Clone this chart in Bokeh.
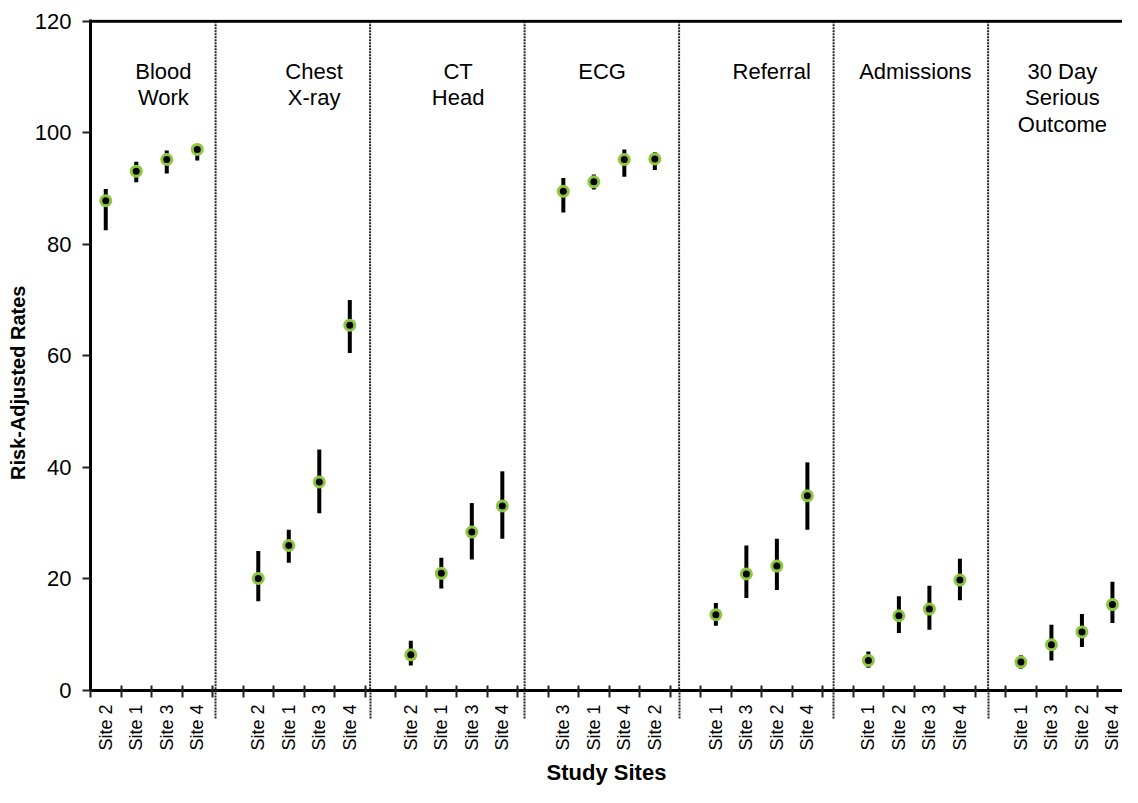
import math
from bokeh.plotting import figure
from bokeh.models import (Range1d, FixedTicker, LinearAxis, Span,
                          ColumnDataSource)
from bokeh.core.properties import value
from bokeh.embed import file_html
from bokeh.resources import INLINE

# ---------------- data ----------------
groups = ["Blood\nWork", "Chest\nX-ray", "CT\nHead", "ECG", "Referral",
          "Admissions", "30 Day\nSerious\nOutcome"]
sites = [
    ["Site 2", "Site 1", "Site 3", "Site 4"],
    ["Site 2", "Site 1", "Site 3", "Site 4"],
    ["Site 2", "Site 1", "Site 3", "Site 4"],
    ["Site 3", "Site 1", "Site 4", "Site 2"],
    ["Site 1", "Site 3", "Site 2", "Site 4"],
    ["Site 1", "Site 2", "Site 3", "Site 4"],
    ["Site 1", "Site 3", "Site 2", "Site 4"],
]
rate_blood = [87.8, 93.1, 95.2, 97.0]
low_blood = [82.5, 91.1, 92.7, 95.0]
high_blood = [89.9, 94.8, 96.8, 98.0]

rate_chest = [20.1, 26.0, 37.4, 65.5]
low_chest = [16.0, 22.9, 31.8, 60.5]
high_chest = [25.0, 28.8, 43.2, 70.0]

rate_ct = [6.4, 21.0, 28.4, 33.1]
low_ct = [4.5, 18.3, 23.5, 27.2]
high_ct = [8.9, 23.8, 33.6, 39.3]

rate_ecg = [89.5, 91.2, 95.2, 95.3]
low_ecg = [85.7, 89.8, 92.1, 93.3]
high_ecg = [91.9, 92.5, 97.0, 96.5]

rate_ref = [13.6, 20.9, 22.3, 34.9]
low_ref = [11.6, 16.6, 18.0, 28.8]
high_ref = [15.7, 26.0, 27.2, 40.9]

rate_adm = [5.4, 13.4, 14.6, 19.8]
low_adm = [4.1, 10.3, 10.9, 16.2]
high_adm = [7.0, 16.9, 18.8, 23.6]

rate_30d = [5.1, 8.2, 10.5, 15.4]
low_30d = [3.9, 5.4, 7.8, 12.1]
high_30d = [6.3, 11.8, 13.7, 19.5]

rates = [rate_blood, rate_chest, rate_ct, rate_ecg, rate_ref, rate_adm, rate_30d]
lows = [low_blood, low_chest, low_ct, low_ecg, low_ref, low_adm, low_30d]
highs = [high_blood, high_chest, high_ct, high_ecg, high_ref, high_adm, high_30d]

y_ticks = [0, 20, 40, 60, 80, 100, 120]

# ---------------- layout helpers ----------------
SLOTS = 5  # 4 sites + 1 spacer per group
label_dx = [0.39, 0.33, 0.05, -0.23, 0.33, 0.04, -0.14]

xs, ys, lo, hi, names = [], [], [], [], []
for g in range(len(groups)):
    for j in range(4):
        xs.append(SLOTS * g + j + 0.5)
        ys.append(rates[g][j])
        lo.append(lows[g][j])
        hi.append(highs[g][j])
        names.append(sites[g][j])

src = ColumnDataSource(dict(x=xs, y=ys, lo=lo, hi=hi))

FONT = "Liberation Sans"

p = figure(width=1122, height=787, output_backend="svg", toolbar_location=None,
           x_range=Range1d(0, 33.83), y_range=Range1d(0, 120.3),
           min_border_left=90, min_border_right=0, min_border_top=19,
           min_border_bottom=0)
p.background_fill_color = "white"
p.border_fill_color = "white"
p.outline_line_color = None
p.xgrid.visible = False
p.ygrid.visible = False

# y axis
ya = p.yaxis[0]
ya.ticker = FixedTicker(ticks=y_ticks, minor_ticks=[])
ya.axis_line_width = 3
ya.axis_line_color = "black"
ya.major_tick_line_width = 2
ya.major_tick_line_color = "#222222"
ya.major_tick_out = 8
ya.major_tick_in = 0
ya.minor_tick_line_color = None
ya.major_label_standoff = 11
ya.major_label_text_font = FONT
ya.major_label_text_font_size = "22px"
ya.major_label_text_color = "black"
ya.axis_label = "Risk-Adjusted Rates" + "\u00a0" * 10
ya.axis_label_text_font = FONT
ya.axis_label_text_font_style = "bold"
ya.axis_label_text_font_size = "20px"
ya.axis_label_text_color = "black"
ya.axis_label_standoff = 3

# x axis 1: dotted divider stubs (major) + category boundary ticks (minor)
div_x = [SLOTS * (g + 1) - 1 + 0.1 + 0.065 * g for g in range(len(groups) - 1)]
boundaries = list(range(0, 35))
xa = p.xaxis[0]
xa.ticker = FixedTicker(ticks=div_x, minor_ticks=boundaries)
xa.axis_line_width = 3
xa.axis_line_color = "black"
xa.major_tick_line_width = 2
xa.major_tick_line_color = "#222222"
xa.major_tick_line_dash = "2 1"
xa.major_tick_out = 28
xa.major_tick_in = 0
xa.minor_tick_line_width = 2
xa.minor_tick_line_color = "#222222"
xa.minor_tick_out = 7
xa.minor_tick_in = 5
xa.major_label_overrides = {d: "" for d in div_x}
xa.major_label_standoff = 0

# x axis 2: site labels
centers = xs
xl = LinearAxis(ticker=FixedTicker(ticks=centers, minor_ticks=[]))
xl.major_label_overrides = {c: n for c, n in zip(centers, names)}
xl.axis_line_color = None
xl.major_tick_line_color = None
xl.minor_tick_line_color = None
xl.major_tick_in = 0
xl.major_tick_out = 0
xl.major_label_orientation = math.pi / 2
xl.major_label_standoff = -14
xl.major_label_text_font = FONT
xl.major_label_text_font_size = "18px"
xl.major_label_text_color = "black"
xl.axis_label = "Study Sites"
xl.axis_label_text_font = FONT
xl.axis_label_text_font_style = "bold"
xl.axis_label_text_font_size = "22px"
xl.axis_label_text_color = "black"
xl.axis_label_standoff = 6
p.add_layout(xl, "below")

# top border line
p.add_layout(Span(location=120, dimension="width", line_color="black", line_width=3))

# dotted dividers between groups
p.segment(x0=div_x, y0=[120] * len(div_x), x1=div_x, y1=[0] * len(div_x),
          line_color="#222222", line_width=2, line_dash="2 1")

# error bars and markers
p.segment(x0="x", y0="lo", x1="x", y1="hi", source=src, line_color="black",
          line_width=4)
p.scatter(x="x", y="y", source=src, size=13, fill_color="#8dc63f",
          line_color=None)
p.scatter(x="x", y="y", source=src, size=7, fill_color="black",
          line_color=None)

# group titles
gx = [SLOTS * g + 2 + label_dx[g] for g in range(len(groups))]
p.text(x=gx, y=[120] * len(groups), text=groups, text_align="center",
       text_baseline="top", y_offset=38, text_font=value(FONT),
       text_font_size="22px", text_color="black", text_line_height=1.05)

open("out.html", "w").write(file_html(p, INLINE))
